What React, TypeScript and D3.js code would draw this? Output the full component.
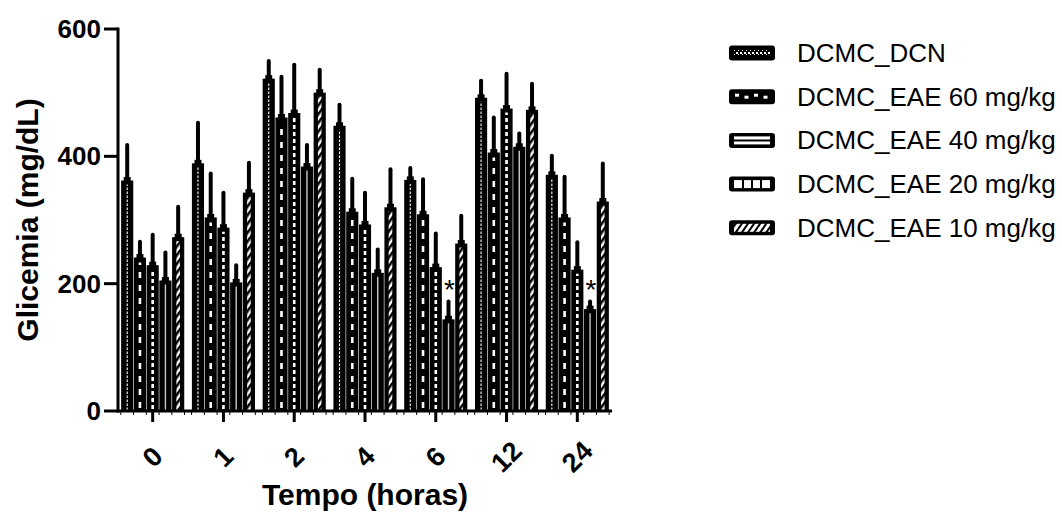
import React from "react";
import * as d3 from "d3";

const categories = ["0", "1", "2", "4", "6", "12", "24"];
const seriesNames = [
  "DCMC_DCN",
  "DCMC_EAE 60 mg/kg",
  "DCMC_EAE 40 mg/kg",
  "DCMC_EAE 20 mg/kg",
  "DCMC_EAE 10 mg/kg",
];
const dcn = [362, 389, 522, 448, 363, 492, 371];
const dcnErr = [59, 67, 31, 36, 22, 30, 33];
const eae60 = [241, 304, 461, 313, 309, 406, 304];
const eae60Err = [28, 72, 67, 55, 58, 58, 67];
const eae40 = [229, 288, 468, 293, 226, 475, 222];
const eae40Err = [51, 58, 79, 53, 56, 58, 46];
const eae20 = [205, 202, 384, 217, 144, 415, 160];
const eae20Err = [47, 30, 37, 40, 31, 24, 15];
const eae10 = [273, 343, 500, 320, 263, 473, 329];
const eae10Err = [51, 50, 39, 63, 47, 44, 63];
const yTicks = [0, 200, 400, 600];
const starCategories = ["6", "24"];
const starSeries = "DCMC_EAE 20 mg/kg";

const values = [dcn, eae60, eae40, eae20, eae10];
const errors = [dcnErr, eae60Err, eae40Err, eae20Err, eae10Err];

const FONT = "'Liberation Sans', Arial, Helvetica, sans-serif";

export default function App() {
  const W = 1062, H = 516;
  const x0 = 118, x1 = 612, yBase = 411, yTop = 29;
  const y = d3.scaleLinear().domain([0, 600]).range([yBase, yTop]);
  const x = d3.scaleBand<string>().domain(categories).range([x0, x1]).paddingInner(0.1).paddingOuter(0.04);
  const xs = d3.scaleBand<string>().domain(seriesNames).range([0, x.bandwidth()]);
  const bw = xs.bandwidth();

  const stripe = (si: number, cx: number, top: number, key: string) => {
    const bottom = yBase - 1;
    if (si === 0)
      return <line key={key} x1={cx} x2={cx} y1={bottom} y2={top + 4} stroke="#fff" strokeWidth={1.1} strokeDasharray="2.5 1.5" />;
    if (si === 1)
      return <line key={key} x1={cx} x2={cx} y1={bottom - 2} y2={top + 5} stroke="#fff" strokeWidth={2.6} strokeDasharray="6 7" />;
    if (si === 2)
      return <line key={key} x1={cx} x2={cx} y1={bottom - 1} y2={top + 4} stroke="#fff" strokeWidth={2.6} strokeDasharray="4 3" />;
    if (si === 3)
      return <line key={key} x1={cx} x2={cx} y1={bottom} y2={top + 4} stroke="#c8c8c8" strokeWidth={1.4} />;
    return <rect key={key} x={cx - 1.8} y={top + 4} width={3.6} height={bottom - top - 4} fill="url(#hatch)" />;
  };

  const bars: any[] = [];
  const minor: any[] = [];
  categories.forEach((c, ci) => {
    seriesNames.forEach((s, si) => {
      const v = values[si][ci];
      const e = errors[si][ci];
      const bx = (x(c) as number) + (xs(s) as number);
      const cx = bx + bw / 2;
      const top = y(v);
      const et = y(v + e);
      bars.push(
        <g key={`b${ci}-${si}`}>
          <line x1={cx} x2={cx} y1={top} y2={et + 2} stroke="#000" strokeWidth={4} strokeLinecap="round" />
          <rect x={cx - 3.5} y={top - 3.5} width={7} height={5} fill="#000" />
          <rect x={bx + 0.3} y={top} width={bw - 0.6} height={yBase - top} fill="#000" />
          {stripe(si, cx, top, `s${ci}-${si}`)}
        </g>
      );
      minor.push(<line key={`m${ci}-${si}a`} x1={bx} x2={bx} y1={yBase} y2={yBase + 4} stroke="#000" strokeWidth={1} />);
    });
    const end = (x(c) as number) + x.bandwidth();
    minor.push(<line key={`m${ci}e`} x1={end} x2={end} y1={yBase} y2={yBase + 4} stroke="#000" strokeWidth={1} />);
  });

  const stars = starCategories.map((c) => {
    const ci = categories.indexOf(c);
    const si = seriesNames.indexOf(starSeries);
    const cx = (x(c) as number) + (xs(starSeries) as number) + bw / 2;
    const et = y(values[si][ci] + errors[si][ci]);
    return (
      <text key={`star${c}`} x={cx + 1} y={et - 1} textAnchor="middle" fontFamily={FONT} fontSize={28} fontWeight="normal">
        *
      </text>
    );
  });

  const legendX = 729, legendY0 = 53, legendStep = 43.7;
  const swW = 46, swH = 15;
  const swatch = (si: number, lx: number, ly: number) => {
    const inner = { x: lx + 5, y: ly - 4, w: swW - 10, h: 8 };
    let content: any = null;
    if (si === 0)
      content = <rect x={inner.x} y={inner.y + 1} width={inner.w} height={inner.h - 2} fill="url(#dots)" />;
    else if (si === 1)
      content = (
        <g>
          {[0, 1, 2, 3].map((k) => (
            <rect key={k} x={inner.x + 1 + k * 9.5} y={k % 2 === 0 ? inner.y + 1 : inner.y + 3} width={4} height={3} fill="#fff" />
          ))}
        </g>
      );
    else if (si === 2)
      content = (
        <g>
          <rect x={inner.x} y={inner.y} width={inner.w} height={inner.h} fill="#fff" />
          <line x1={inner.x} x2={inner.x + inner.w} y1={ly} y2={ly} stroke="#000" strokeWidth={2} />
        </g>
      );
    else if (si === 3)
      content = (
        <g>
          <rect x={inner.x} y={inner.y} width={inner.w} height={inner.h} fill="#fff" />
          {[1, 2, 3].map((k) => (
            <line key={k} x1={inner.x + (k * inner.w) / 4} x2={inner.x + (k * inner.w) / 4} y1={inner.y} y2={inner.y + inner.h} stroke="#000" strokeWidth={2} />
          ))}
        </g>
      );
    else content = <rect x={inner.x} y={inner.y} width={inner.w} height={inner.h} fill="url(#hatchL)" />;
    return (
      <g>
        <rect x={lx} y={ly - swH / 2} width={swW} height={swH} rx={3} fill="#000" />
        {content}
      </g>
    );
  };

  return (
    <svg width={W} height={H} style={{ position: "absolute", left: 0, top: 0, background: "#fff" }}>
      <defs>
        <pattern id="hatch" patternUnits="userSpaceOnUse" width={5} height={5} patternTransform="rotate(35)">
          <rect width={5} height={5} fill="#fff" />
          <rect width={2.5} height={5} fill="#000" />
        </pattern>
        <pattern id="hatchL" patternUnits="userSpaceOnUse" width={5} height={5} patternTransform="rotate(35)">
          <rect width={5} height={5} fill="#fff" />
          <rect width={2} height={5} fill="#000" />
        </pattern>
        <pattern id="dots" patternUnits="userSpaceOnUse" width={4} height={4}>
          <rect width={4} height={4} fill="#000" />
          <rect width={2} height={2} fill="#fff" />
          <rect x={2} y={2} width={1} height={1} fill="#fff" />
        </pattern>
      </defs>

      {bars}
      {stars}

      {/* axes */}
      <line x1={x0} x2={x0} y1={yTop - 1.5} y2={yBase + 1.5} stroke="#000" strokeWidth={3} />
      <line x1={x0} x2={x1} y1={yBase} y2={yBase} stroke="#000" strokeWidth={3} />
      {minor}
      {yTicks.map((t) => (
        <g key={`yt${t}`}>
          <line x1={x0 - 14} x2={x0} y1={y(t)} y2={y(t)} stroke="#000" strokeWidth={3} />
          <text x={x0 - 17} y={y(t)} textAnchor="end" dominantBaseline="central" fontFamily={FONT} fontWeight="bold" fontSize={26}>
            {t}
          </text>
        </g>
      ))}
      {categories.map((c) => {
        const cx = (x(c) as number) + x.bandwidth() / 2;
        return (
          <g key={`xt${c}`}>
            <line x1={cx} x2={cx} y1={yBase} y2={yBase + 11} stroke="#000" strokeWidth={3} />
            <text
              transform={`translate(${cx},${yBase + 46}) rotate(-45)`}
              textAnchor="middle"
              dominantBaseline="central"
              fontFamily={FONT}
              fontWeight="bold"
              fontSize={27}
            >
              {c}
            </text>
          </g>
        );
      })}

      <text x={(x0 + x1) / 2} y={505} textAnchor="middle" fontFamily={FONT} fontWeight="bold" fontSize={30}>
        Tempo (horas)
      </text>
      <text
        transform={`translate(38,${(yTop + yBase) / 2}) rotate(-90)`}
        textAnchor="middle"
        fontFamily={FONT}
        fontWeight="bold"
        fontSize={30}
      >
        Glicemia (mg/dL)
      </text>

      {seriesNames.map((s, si) => {
        const ly = legendY0 + si * legendStep;
        return (
          <g key={`lg${si}`}>
            {swatch(si, legendX, ly)}
            <text x={797} y={ly} dominantBaseline="central" fontFamily={FONT} fontSize={26}>
              {s}
            </text>
          </g>
        );
      })}
    </svg>
  );
}
